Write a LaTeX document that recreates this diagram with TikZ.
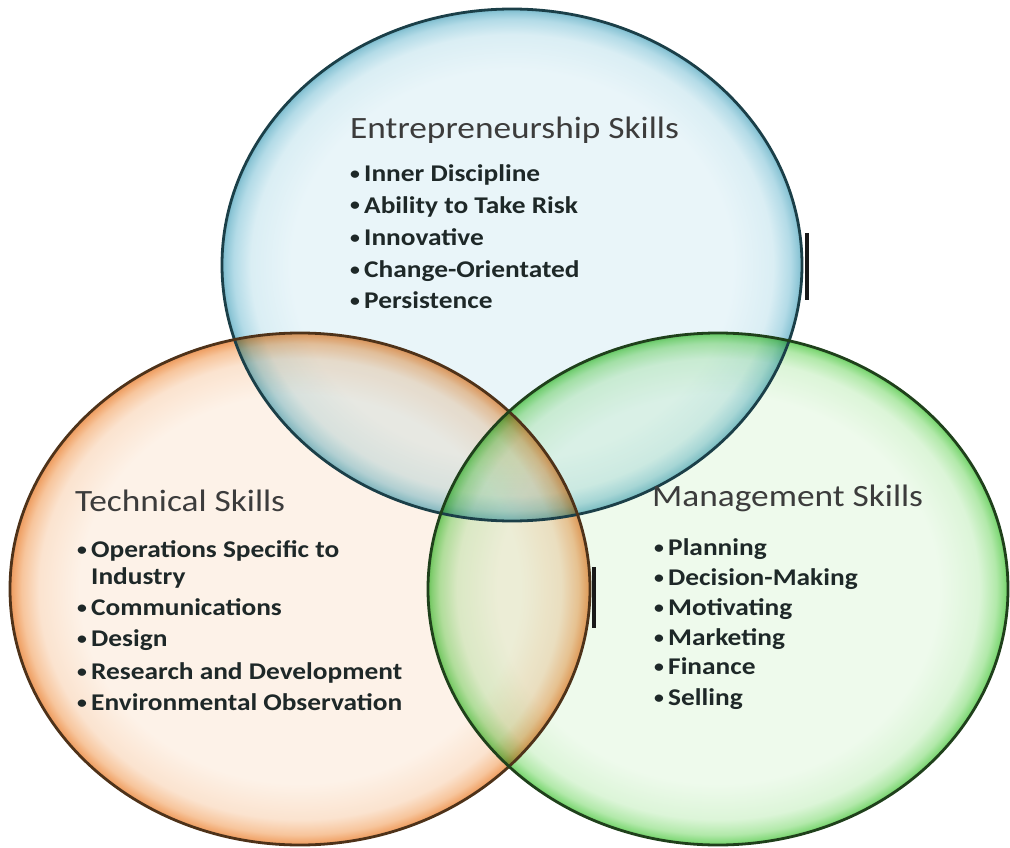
\documentclass[tikz,border=0pt]{standalone}
\usepackage{fontspec}
\setmainfont{Carlito}[FakeStretch=1.14]
\usetikzlibrary{shapes.geometric}
% colours
\definecolor{titlegray}{HTML}{3C3C3C}
\definecolor{itemdark}{HTML}{1E2828}
\definecolor{bA}{HTML}{E9F5F9}\definecolor{bB}{HTML}{DAEEF4}\definecolor{bC}{HTML}{B3DBE7}\definecolor{bD}{HTML}{8FC7D7}\definecolor{bE}{HTML}{78B8CA}
\definecolor{oA}{HTML}{FDF2E8}\definecolor{oB}{HTML}{FBE3CF}\definecolor{oC}{HTML}{F7C59C}\definecolor{oD}{HTML}{F1A76E}\definecolor{oE}{HTML}{E9985E}
\definecolor{gA}{HTML}{EEFAEC}\definecolor{gB}{HTML}{DCF5D8}\definecolor{gC}{HTML}{B2E9AA}\definecolor{gD}{HTML}{86DA7D}\definecolor{gE}{HTML}{6ACC62}
\definecolor{bline}{HTML}{1B3F48}
\definecolor{oline}{HTML}{4E3219}
\definecolor{gline}{HTML}{1F401B}
\pgfdeclareradialshading{blueball}{\pgfpoint{0bp}{0bp}}{color(0bp)=(bA); color(19bp)=(bA); color(22.5bp)=(bB); color(24bp)=(bC); color(24.7bp)=(bD); color(25bp)=(bE); color(50bp)=(bE)}
\pgfdeclareradialshading{orangeball}{\pgfpoint{0bp}{0bp}}{color(0bp)=(oA); color(19bp)=(oA); color(22.5bp)=(oB); color(24bp)=(oC); color(24.7bp)=(oD); color(25bp)=(oE); color(50bp)=(oE)}
\pgfdeclareradialshading{greenball}{\pgfpoint{0bp}{0bp}}{color(0bp)=(gA); color(19bp)=(gA); color(22.5bp)=(gB); color(24bp)=(gC); color(24.7bp)=(gD); color(25bp)=(gE); color(50bp)=(gE)}
\tikzset{
  bubble/.style={ellipse, minimum width=580pt, minimum height=512pt, inner sep=0pt},
  bubblefill/.style={bubble, blend mode=multiply},
  rim/.style={bubble, draw=#1, line width=2.8pt},
  titletext/.style={anchor=base west, inner sep=0pt, text=titlegray, font=\fontsize{31}{31}\selectfont},
  itemtext/.style={anchor=base west, inner sep=0pt, text=itemdark, font=\bfseries\fontsize{24}{24}\selectfont},
  darkbar/.style={line width=4pt, draw=black!90}
}
\newcommand{\bul}{\makebox[15pt][l]{\hspace{1pt}\raisebox{2pt}{\scalebox{0.72}{\textbullet}}}}
\begin{document}
\begin{tikzpicture}[x=1pt,y=-1pt]
\useasboundingbox (0,0) rectangle (1010,848);
% filled bubbles
\node[bubblefill, shading=blueball] (entfill) at (512,265) {};
\node[bubblefill, shading=orangeball] (techfill) at (300,589) {};
\node[bubblefill, shading=greenball] (mgmtfill) at (718,589) {};
% outlines
\node[rim=bline] (ent) at (512,265) {};
\node[rim=oline] (tech) at (300,589) {};
\node[rim=gline] (mgmt) at (718,589) {};
% small dark marks
\draw[darkbar] (807,233) -- (807,300);
\draw[darkbar] (594,567) -- (594,628);
% Entrepreneurship
\node[titletext] (enttitle) at (350,139) {Entrepreneurship Skills};
\node[itemtext] (e1) at (349,182) {\bul Inner Discipline};
\node[itemtext] (e2) at (349,213) {\bul Ability to Take Risk};
\node[itemtext] (e3) at (349,245) {\bul Innovative};
\node[itemtext] (e4) at (349,277) {\bul Change-Orientated};
\node[itemtext] (e5) at (349,308) {\bul Persistence};
% Technical
\node[titletext] (techtitle) at (75,511) {Technical Skills};
\node[itemtext] (t1) at (76,557) {\bul Operations Specific to};
\node[itemtext] (t1b) at (76,584) {\hspace{15pt}Industry};
\node[itemtext] (t2) at (76,615) {\bul Communications};
\node[itemtext] (t3) at (76,646) {\bul Design};
\node[itemtext] (t4) at (76,679) {\bul Research and Development};
\node[itemtext] (t5) at (76,710) {\bul Environmental Observation};
% Management
\node[titletext] (mgmttitle) at (652,506) {Management Skills};
\node[itemtext] (m1) at (653,555) {\bul Planning};
\node[itemtext] (m2) at (653,585) {\bul Decision-Making};
\node[itemtext] (m3) at (653,615) {\bul Motivating};
\node[itemtext] (m4) at (653,645) {\bul Marketing};
\node[itemtext] (m5) at (653,674) {\bul Finance};
\node[itemtext] (m6) at (653,705) {\bul Selling};
\end{tikzpicture}
\end{document}
